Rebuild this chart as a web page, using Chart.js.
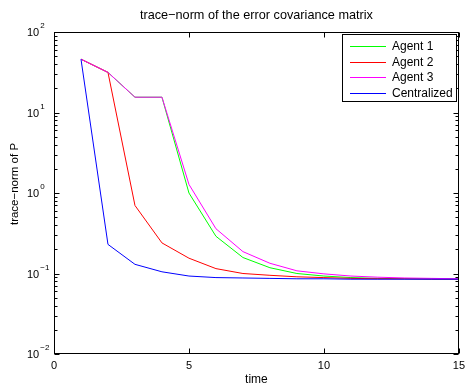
<!DOCTYPE html>
<html><head><meta charset="utf-8">
<script src="https://cdn.jsdelivr.net/npm/chart.js@4/dist/chart.umd.min.js"></script>
<style>html,body{margin:0;padding:0;background:#fff}#wrap{width:470px;height:387px}</style>
</head><body><div id="wrap"><canvas id="c" width="470" height="387"></canvas></div>
<script>
const times = [1,2,3,4,5,6,7,8,9,10,11,12,13,14,15];
const agent1 = [46,31.5,15.5,15.5,1.0,0.29,0.158,0.118,0.100,0.093,0.089,0.087,0.086,0.086,0.085];
const agent2 = [46,31.5,0.70,0.24,0.155,0.115,0.100,0.095,0.091,0.089,0.087,0.086,0.086,0.085,0.085];
const agent3 = [46,31.5,15.5,15.5,1.28,0.36,0.187,0.134,0.108,0.099,0.093,0.090,0.088,0.087,0.086];
const centralized = [46,0.23,0.13,0.105,0.093,0.089,0.088,0.087,0.086,0.086,0.085,0.085,0.085,0.085,0.085];
const seriesNames = ['Agent 1','Agent 2','Agent 3','Centralized'];
const seriesColors = ['#00ff00','#ff0000','#ff00ff','#0000ff'];
const xTicks = [0,5,10,15];
const yExponents = [-2,-1,0,1,2];
const yTitle = 'trace\u2212norm of P';

const FONT = 'Liberation Sans, Arial, Helvetica, sans-serif';
const seriesData = [agent1, agent2, agent3, centralized];

const framePlugin = {
  id: 'frame',
  afterDatasetsDraw(chart) {
    const ctx = chart.ctx, a = chart.chartArea;
    const xs = chart.scales.x, ys = chart.scales.y;
    ctx.save();
    ctx.strokeStyle = '#000'; ctx.lineWidth = 1;
    const L = Math.round(a.left)+0.5, R = Math.round(a.right)-0.5, T = Math.round(a.top)+0.5, B = Math.round(a.bottom)-0.5;
    ctx.beginPath();
    for (let e = -2; e < 2; e++) {
      for (let m = 1; m <= 9; m++) {
        const v = m * Math.pow(10, e);
        const y = Math.round(ys.getPixelForValue(v)) + 0.5;
        const len = m === 1 ? 5 : 3;
        ctx.moveTo(L, y); ctx.lineTo(L + len, y);
        ctx.moveTo(R, y); ctx.lineTo(R - len, y);
      }
    }
    xTicks.forEach(t => {
      const x = Math.round(xs.getPixelForValue(t)) + 0.5;
      ctx.moveTo(x, B); ctx.lineTo(x, B - 5);
      ctx.moveTo(x, T); ctx.lineTo(x, T + 5);
    });
    ctx.stroke();
    ctx.strokeRect(L, T, R - L, B - T);
    // y tick labels with superscripts
    ctx.fillStyle = '#000';
    ctx.textBaseline = 'middle'; ctx.textAlign = 'left';
    yExponents.forEach(e => {
      const y = ys.getPixelForValue(Math.pow(10, e));
      ctx.font = '11px ' + FONT;
      ctx.fillText('10', 27, y + 1);
      const w = ctx.measureText('10').width;
      ctx.font = '8px ' + FONT;
      ctx.fillText(e < 0 ? '\u2212' + (-e) : String(e), 27 + w + 1, y - 6);
    });
    // y axis title
    ctx.save();
    ctx.translate(15, 184);
    ctx.rotate(-Math.PI / 2);
    ctx.textAlign = 'center'; ctx.textBaseline = 'middle';
    ctx.font = '11.5px ' + FONT;
    ctx.fillText(yTitle, 0, 0);
    ctx.restore();
    // legend
    const bx = 342.5, by = 34.5, bw = 114, bh = 67;
    ctx.fillStyle = '#fff'; ctx.fillRect(bx, by, bw, bh);
    ctx.strokeRect(bx, by, bw, bh);
    ctx.font = '12px ' + FONT;
    ctx.textAlign = 'left'; ctx.textBaseline = 'middle';
    chart.data.datasets.forEach((ds, i) => {
      const y = 46 + i * 15.5;
      ctx.strokeStyle = ds.borderColor; ctx.lineWidth = 1;
      ctx.beginPath();
      ctx.moveTo(350, Math.round(y) + 0.5); ctx.lineTo(386, Math.round(y) + 0.5); ctx.stroke();
      ctx.fillStyle = '#000'; ctx.fillText(ds.label, 392, y + 1);
    });
    ctx.restore();
  }
};

new Chart(document.getElementById('c'), {
  type: 'line',
  data: {
    datasets: seriesNames.map((n, i) => ({
      label: n,
      data: times.map((t, k) => ({x: t, y: seriesData[i][k]})),
      borderColor: seriesColors[i],
      borderWidth: 1,
      pointRadius: 0,
      tension: 0,
      order: 4 - i
    }))
  },
  options: {
    responsive: false,
    animation: false,
    events: [],
    layout: { padding: { left: 0, right: 5, top: 0, bottom: 0 } },
    plugins: {
      legend: { display: false },
      tooltip: { enabled: false },
      title: {
        display: true, text: 'trace\u2212norm of the error covariance matrix',
        fullSize: false, color: '#000',
        font: { family: FONT, size: 12.7, weight: 'normal', lineHeight: 1.2 },
        padding: { top: 8, bottom: 8.8 }
      }
    },
    scales: {
      x: {
        type: 'linear', min: 0, max: 15,
        afterBuildTicks: s => { s.ticks = xTicks.map(v => ({value: v})); },
        afterFit: s => { s.height = 33; },
        grid: { display: false, drawTicks: false },
        border: { display: false },
        ticks: { color: '#000', font: { family: FONT, size: 11 }, padding: 5, maxRotation: 0 },
        title: { display: true, text: 'time', color: '#000', font: { family: FONT, size: 12 }, padding: { top: 0, bottom: 0 } }
      },
      y: {
        type: 'logarithmic', min: 0.01, max: 100,
        afterFit: s => { s.width = 54; },
        grid: { display: false, drawTicks: false },
        border: { display: false },
        ticks: { display: false }
      }
    }
  },
  plugins: [framePlugin]
});
</script></body></html>
